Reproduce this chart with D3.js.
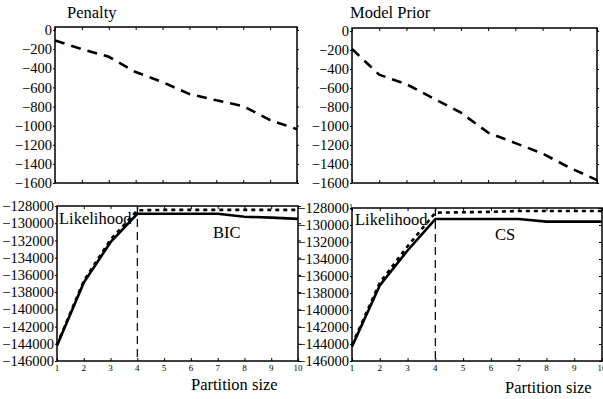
<!DOCTYPE html>
<html>
<head>
<meta charset="utf-8">
<script src="https://cdn.jsdelivr.net/npm/d3@7"></script>
<style>
  body { margin: 0; background: #fff; }
</style>
</head>
<body>
<svg width="603" height="399"></svg>
<script>
// partition sizes on the x axis
var partitions = [1, 2, 3, 4, 5, 6, 7, 8, 9, 10];

// top panels
var penalty = [-110, -200, -280, -440, -545, -670, -735, -796, -942, -1037];
var modelPrior = [-190, -460, -560, -710, -860, -1070, -1180, -1290, -1440, -1570];
var topTicks = [0, -200, -400, -600, -800, -1000, -1200, -1400, -1600];

// bottom panels (dotted = likelihood, solid = score)
var likelihoodBIC = [-144100, -136700, -131900, -128500, -128450, -128450, -128450, -128450, -128450, -128450];
var bic = [-144200, -136900, -132200, -128900, -128900, -128900, -128900, -129250, -129350, -129500];
var likelihoodCS = [-144100, -136800, -132500, -128550, -128500, -128450, -128350, -128350, -128350, -128350];
var cs = [-144300, -137100, -133000, -129300, -129300, -129300, -129300, -129600, -129600, -129600];
var bottomTicks = [-128000, -130000, -132000, -134000, -136000, -138000, -140000, -142000, -144000, -146000];
var bestSize = 4;

var font = "Liberation Serif";
var svg = d3.select("svg");

function panel(p) {
    var x = d3.scaleLinear().domain([1, 10]).range([p.left, p.right]);
    var y = d3.scaleLinear().domain(p.ydomain).range([p.bottom, p.ytop]);
    var g = svg.append("g");

    // frame
    g.append("rect")
    .attr("x", p.left)
    .attr("y", p.top)
    .attr("width", p.right - p.left)
    .attr("height", p.bottom - p.top)
    .attr("fill", "none")
    .attr("stroke", "#000")
    .attr("stroke-width", 1.5);

    // left axis labels
    var yl = g.append("g")
    .attr("transform", "translate(" + p.left + ",0)")
    .call(d3.axisLeft(y).tickValues(p.yticks).tickSize(2).tickPadding(1).tickFormat(d3.format("d")));
    yl.select(".domain").remove();
    yl.selectAll("text")
    .style("font-size", "14.5px")
    .style("font-family", font)
    .attr("fill", "#000");

    // right side small ticks
    var yr = g.append("g")
    .attr("transform", "translate(" + p.right + ",0)")
    .call(d3.axisRight(y).tickValues(p.yticks).tickSize(p.rightTick).tickFormat(""));
    yr.select(".domain").remove();

    // top and bottom inner ticks
    var xt = g.append("g")
    .attr("transform", "translate(0," + p.top + ")")
    .call(d3.axisBottom(x).tickValues(partitions).tickSize(3).tickFormat(""));
    xt.select(".domain").remove();

    var xb = g.append("g")
    .attr("transform", "translate(0," + p.bottom + ")")
    .call(d3.axisTop(x).tickValues(partitions).tickSize(3).tickFormat(""));
    xb.select(".domain").remove();

    if (p.xlabels) {
        g.selectAll(".xlab")
        .data(partitions)
        .enter()
        .append("text")
        .attr("x", function(d) { return x(d); })
        .attr("y", p.bottom + 10)
        .attr("text-anchor", "middle")
        .style("font-family", font)
        .style("font-size", "9px")
        .text(function(d) { return d; });
    }

    g.selectAll(".tick line").attr("stroke", "#000").attr("stroke-width", 1);

    return { g: g, x: x, y: y };
}

function drawLine(pp, values, dash, width) {
    var line = d3.line()
    .x(function(d, i) { return pp.x(partitions[i]); })
    .y(function(d) { return pp.y(d); });
    pp.g.append("path")
    .datum(values)
    .attr("d", line)
    .attr("fill", "none")
    .attr("stroke", "#000")
    .attr("stroke-width", width)
    .attr("stroke-dasharray", dash);
}

function label(txt, x, y, size) {
    svg.append("text")
    .attr("x", x)
    .attr("y", y)
    .style("font-family", font)
    .style("font-size", size + "px")
    .text(txt);
}

// Penalty
var tl = panel({left: 55, right: 297, top: 27, bottom: 183, ytop: 30,
    ydomain: [-1600, 0], yticks: topTicks, rightTick: 2, xlabels: false});
drawLine(tl, penalty, "10,7", 2.6);
label("Penalty", 67, 18, 16.5);

// Model Prior
var tr = panel({left: 352, right: 597, top: 28, bottom: 183, ytop: 31,
    ydomain: [-1600, 0], yticks: topTicks, rightTick: 2, xlabels: false});
drawLine(tr, modelPrior, "10,7", 2.6);
label("Model Prior", 350, 18, 16.5);

// BIC
var bl = panel({left: 57, right: 298, top: 206, bottom: 361, ytop: 206,
    ydomain: [-146000, -128000], yticks: bottomTicks, rightTick: 3, xlabels: true});
bl.g.append("line")
.attr("x1", bl.x(bestSize)).attr("x2", bl.x(bestSize))
.attr("y1", 206).attr("y2", 361)
.attr("stroke", "#000").attr("stroke-width", 1.2).attr("stroke-dasharray", "8,5");
drawLine(bl, likelihoodBIC, "4,4", 2.6);
drawLine(bl, bic, null, 2.6);
label("Likelihood", 59, 224, 16.5);
label("BIC", 213, 238, 16.5);
label("Partition size", 191, 390, 16.5);

// CS
var br = panel({left: 352, right: 602, top: 208, bottom: 361, ytop: 208,
    ydomain: [-146000, -128000], yticks: bottomTicks, rightTick: -3, xlabels: true});
br.g.append("line")
.attr("x1", br.x(bestSize)).attr("x2", br.x(bestSize))
.attr("y1", 208).attr("y2", 361)
.attr("stroke", "#000").attr("stroke-width", 1.2).attr("stroke-dasharray", "8,5");
drawLine(br, likelihoodCS, "4,4", 2.6);
drawLine(br, cs, null, 2.6);
label("Likelihood", 355, 225, 16.5);
label("CS", 495, 240, 16.5);
label("Partition size", 505, 393, 16.5);
svg.append("text").attr("x", 349).attr("y", 210)
.style("font-family", font).style("font-size", "8px").text("1");
</script>
</body>
</html>
